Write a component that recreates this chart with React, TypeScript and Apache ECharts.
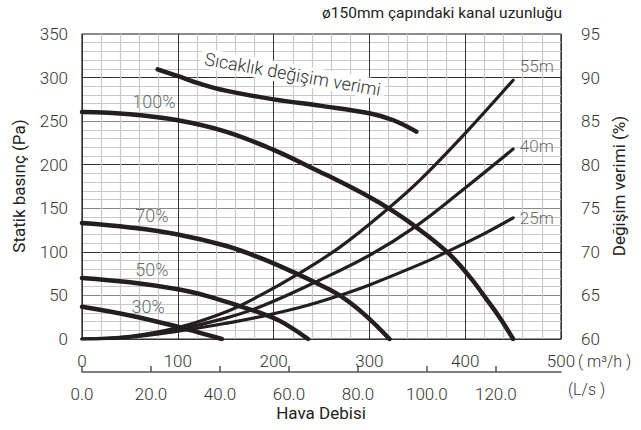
import React, { useEffect, useRef } from 'react';
import * as echarts from 'echarts';

// Fan curves: [airflow m³/h, static pressure Pa]
const fan100 = [[0,260.5],[50,258],[100,251],[150,238],[200,217],[248,192],[266,182.5],[300,163],[320,150],[348,129],[381,100],[405,71],[422,46],[437,23],[450,0]];
const fan70 = [[0,133],[50,128],[100,120],[150,107],[186,93],[224,75],[243,65],[269,50],[295,28],[321,0]];
const fan50 = [[0,70],[50,65],[100,57],[130,49.5],[161,39],[186,30],[207,20.5],[236,0]];
const fan30 = [[0,37],[50,27],[100,14],[125,6.5],[146,0]];
// Duct resistance curves
const duct55 = [[0,0],[50,3],[100,13],[150,31],[186,50],[224,73.5],[270,106],[320,150],[353,182.5],[400,236],[450,297]];
const duct40 = [[0,0],[50,2.5],[100,11],[150,24],[186,37],[243,65],[300,96],[348,129],[395,169],[450,218]];
const duct25 = [[0,0],[50,2],[100,9],[150,18],[186,25.6],[230,37],[269,50],[300,62],[363,90.5],[381,100],[420,121],[450,139]];
// Temperature exchange efficiency: [m³/h, %]
const efficiency = [[79,90.95],[102,90.1],[123,89.3],[150,88.5],[200,87.5],[250,86.75],[300,85.9],[325,85.1],[349,83.8]];

const pctLabels = [[75,273,'100%'],[73,142,'70%'],[73,80,'50%'],[69,37,'30%']];
const ductLabels = [[457,313,'55m'],[457,222,'40m'],[457,139,'25m']];
const effLabelText = 'Sıcaklık değişim verimi';
const effLabelAt = [220, 304];

const leftTicks = { min: 0, max: 350, interval: 50 };
const rightTicks = { min: 60, max: 95, interval: 5 };
const flowTicks = { min: 0, max: 500, interval: 100 };
const lsTicks = { min: 0, max: 500 / 3.6, interval: 20 };

const FONT = 'Roboto, sans-serif';
const INK = '#231f20';

export default function App() {
  const ref = useRef<HTMLDivElement>(null);
  useEffect(() => {
    if (!ref.current) return;
    const chart = echarts.init(ref.current, undefined, { renderer: 'svg' });
    const lineSeries = (data: number[][], width: number, yAxisIndex = 0) => ({
      type: 'line', data, yAxisIndex, smooth: 0.4, showSymbol: false, symbol: 'none',
      lineStyle: { color: INK, width, cap: 'round' }, z: 5,
    });
    const labelSeries = (data: any[], label: any) => ({
      type: 'scatter', data, symbolSize: 0, z: 6,
      label: { show: true, formatter: (p: any) => p.data[2], fontFamily: FONT, ...label },
    });
    const tickLabel = { fontSize: 17, color: '#333', fontWeight: 300, fontFamily: FONT };
    const staticGraphics: any[] = [
      { type: 'text', right: 79, top: 5, style: { text: 'ø150mm çapındaki kanal uzunluğu', fontSize: 15.5, fill: '#222', fontFamily: FONT } },
      { type: 'text', x: 19, y: 186, rotation: Math.PI / 2, style: { text: 'Statik basınç (Pa)', fontSize: 17, fill: '#222', fontFamily: FONT, align: 'center', verticalAlign: 'middle' } },
      { type: 'text', x: 619, y: 186, rotation: Math.PI / 2, style: { text: 'Değişim verimi (%)', fontSize: 17, fill: '#222', fontFamily: FONT, align: 'center', verticalAlign: 'middle' } },
      { type: 'text', x: 321, y: 413, style: { text: 'Hava Debisi', fontSize: 17, fill: '#222', fontFamily: FONT, align: 'center', verticalAlign: 'middle' } },
      { type: 'text', x: 578, y: 361, style: { text: '( m³/h )', fontSize: 16, fill: '#333', fontWeight: 300, fontFamily: FONT, align: 'left', verticalAlign: 'middle' } },
      { type: 'text', x: 568, y: 389, style: { text: '(L/s )', fontSize: 16, fill: '#333', fontWeight: 300, fontFamily: FONT, align: 'left', verticalAlign: 'middle' } },
    ];
    chart.setOption({
      animation: false,
      textStyle: { fontFamily: FONT },
      grid: { left: 82, top: 34, right: 80, bottom: 91, show: true, borderColor: INK, borderWidth: 1.2, backgroundColor: 'transparent' },
      xAxis: [
        {
          type: 'value', ...flowTicks, position: 'bottom',
          axisLine: { show: false }, axisTick: { show: false },
          axisLabel: { margin: 13, ...tickLabel },
          splitLine: { show: true, lineStyle: { color: '#333', width: 1 } },
          minorTick: { show: false, splitNumber: 5 },
          minorSplitLine: { show: true, lineStyle: { color: '#c8c8c8', width: 1.2 } },
        },
        {
          type: 'value', ...lsTicks, position: 'bottom', offset: 33,
          axisLine: { show: true, lineStyle: { color: '#555', width: 1.5 } },
          axisTick: { show: true, inside: true, length: 6, lineStyle: { color: '#555', width: 1.5 } },
          axisLabel: { margin: 13, ...tickLabel, showMaxLabel: false,
            formatter: (v: number) => (Math.abs(v % 20) < 1e-6 ? v.toFixed(1) : '') },
          splitLine: { show: false },
        },
      ],
      yAxis: [
        {
          type: 'value', ...leftTicks, position: 'left',
          axisLine: { show: false }, axisTick: { show: false },
          axisLabel: { margin: 14, ...tickLabel },
          splitLine: { show: true, lineStyle: { color: ['#333', '#888'], width: 1.2 } },
          minorTick: { show: false, splitNumber: 5 },
          minorSplitLine: { show: true, lineStyle: { color: '#c8c8c8', width: 1.2 } },
        },
        {
          type: 'value', ...rightTicks, position: 'right',
          axisLine: { show: false }, axisTick: { show: false },
          axisLabel: { margin: 20, ...tickLabel },
          splitLine: { show: false },
        },
      ],
      series: [
        lineSeries(fan100, 4.5),
        lineSeries(fan70, 4.5),
        lineSeries(fan50, 4.5),
        lineSeries(fan30, 4.5),
        lineSeries(duct55, 3.2),
        lineSeries(duct40, 3.2),
        lineSeries(duct25, 3.2),
        lineSeries(efficiency, 4.5, 1),
        labelSeries(pctLabels, { position: 'inside', fontSize: 18, color: '#444', fontWeight: 300 }),
        labelSeries(ductLabels, { position: 'right', distance: 0, fontSize: 17, color: '#444', fontWeight: 300, align: 'left' }),
      ],
      graphic: staticGraphics,
    });
    const p = chart.convertToPixel({ xAxisIndex: 0, yAxisIndex: 0 }, effLabelAt) as number[];
    chart.setOption({
      graphic: [
        ...staticGraphics,
        {
          type: 'text', x: p[0], y: p[1], rotation: -10 * Math.PI / 180, z: 10,
          style: { text: effLabelText, fontSize: 18, fill: '#333', fontWeight: 300, fontFamily: FONT,
            align: 'center', verticalAlign: 'middle', backgroundColor: '#fff', padding: [1, 4] },
        },
      ],
    });
    return () => chart.dispose();
  }, []);
  return <div ref={ref} style={{ width: 641, height: 430, position: 'absolute', left: 0, top: 0 }} />;
}
